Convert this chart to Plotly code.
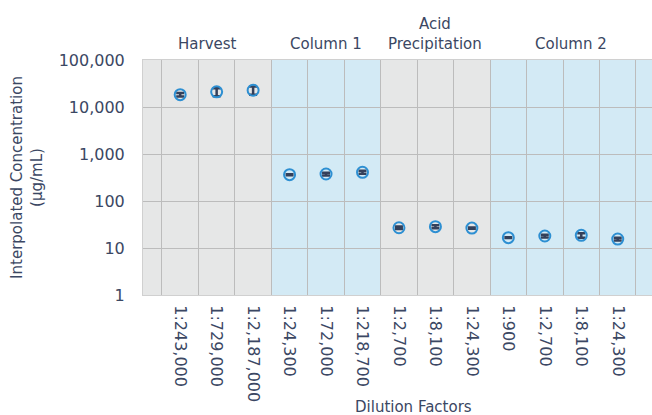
import plotly.graph_objects as go

categories = ["1:243,000", "1:729,000", "1:2,187,000",
              "1:24,300", "1:72,000", "1:218,700",
              "1:2,700", "1:8,100", "1:24,300",
              "1:900", "1:2,700", "1:8,100", "1:24,300"]
groups = ["Harvest", "Column 1", "Acid<br>Precipitation", "Column 2"]
group_sizes = [3, 3, 3, 4]
concentration = [18300, 21000, 22700,
                 363, 375, 408,
                 27, 28.4, 26.5,
                 16.6, 18, 18.6, 15.5]
errors = [1500, 4000, 4500,
          10, 25, 30,
          1.5, 2, 0.8,
          0.3, 1.2, 2, 1]
y_tickvals = [1, 10, 100, 1000, 10000, 100000]
y_ticktext = ["1", "10", "100", "1,000", "10,000", "100,000"]

TEXT = "#3b4763"
GRID = "#bcbcbc"
GRAY = "#e6e7e7"
BLUE = "#d3eaf5"
FONT = "DejaVu Sans"
X_LO, X_HI = -1.02, 12.94

xs = list(range(len(categories)))

fig = go.Figure()
fig.add_trace(go.Scatter(
    x=xs, y=concentration, mode="markers",
    marker=dict(symbol="circle", size=11, color="rgba(0,0,0,0)",
                line=dict(color="#2d8fd2", width=2)),
    error_y=dict(type="data", array=errors, visible=True,
                 color="#34405a", thickness=2.5, width=4),
    showlegend=False,
))

# band shading and group labels
start = X_LO
colors = [GRAY, BLUE, GRAY, BLUE]
idx = 0
for g, n, c in zip(groups, group_sizes, colors):
    end = idx + n - 0.5
    if g == "Column 2":
        end = X_HI
    fig.add_shape(type="rect", xref="x", yref="paper", x0=start, x1=end,
                  y0=0, y1=1, fillcolor=c, line_width=0, layer="below")
    fig.add_annotation(x=(start + end) / 2, xref="x", y=1.0, yref="paper",
                       yshift=5, yanchor="bottom", text=g, showarrow=False,
                       font=dict(size=15, color=TEXT, family=FONT))
    start = end
    idx += n

fig.add_annotation(x=(413 - 143) / (652 - 143), xref="paper", y=0, yref="paper",
                   yshift=-112, yanchor="middle",
                   text="Dilution Factors", showarrow=False,
                   font=dict(size=15, color=TEXT, family=FONT))

fig.update_xaxes(
    range=[X_LO, X_HI], tickvals=xs, ticktext=categories, tickangle=90,
    showgrid=False, zeroline=False, automargin=False,
    minor=dict(tickvals=[i - 0.5 for i in range(14)], showgrid=True,
               gridcolor=GRID, gridwidth=1),
    showline=True, linecolor="#d0d0d0", linewidth=1, mirror=True,
    ticks="", ticklabelstandoff=6,
    tickfont=dict(size=16, color=TEXT, family=FONT),
)
fig.update_yaxes(
    type="log", range=[0, 5], tickvals=y_tickvals, ticktext=y_ticktext,
    showgrid=True, gridcolor=GRID, gridwidth=1, zeroline=False,
    showline=True, linecolor="#d0d0d0", linewidth=1, automargin=False,
    ticks="", ticklabelstandoff=14,
    tickfont=dict(size=16, color=TEXT, family=FONT),
    title=dict(text="Interpolated Concentration<br>(µg/mL)", standoff=12,
               font=dict(size=15, color=TEXT, family=FONT)),
)
fig.update_layout(
    width=652, height=415,
    margin=dict(l=143, r=0, t=60, b=120, autoexpand=False),
    plot_bgcolor="white", paper_bgcolor="white",
    font=dict(family=FONT, color=TEXT),
)
fig.write_html(
    "out.html",
    config={"displayModeBar": False},
    post_script="document.body.style.margin='0';"
                "document.body.style.overflow='hidden';",
)
